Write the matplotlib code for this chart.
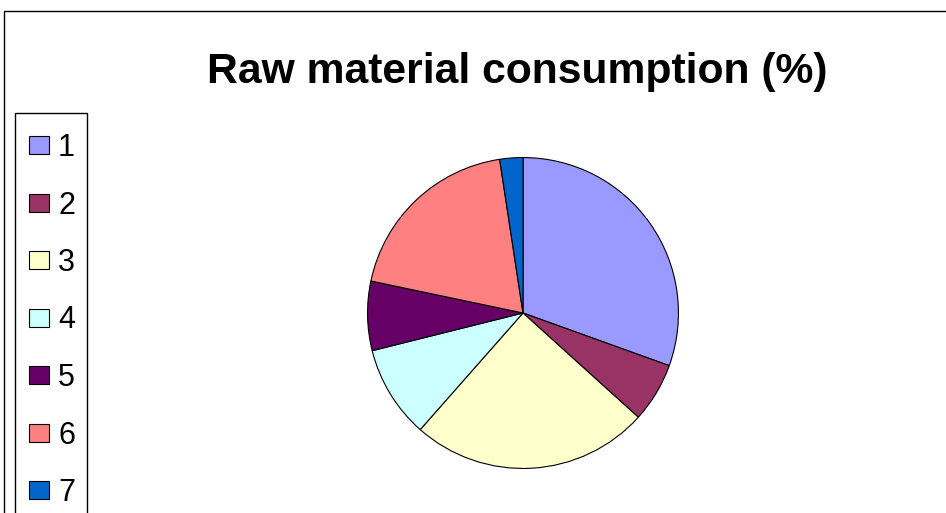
import matplotlib.pyplot as plt
from matplotlib.patches import Rectangle

labels = ['1', '2', '3', '4', '5', '6', '7']
values = [30.5, 6.2, 24.8, 9.6, 7.2, 19.3, 2.4]
colors = ['#9999FF', '#993366', '#FFFFCC', '#CCFFFF', '#660066', '#FF8080', '#0066CC']

W, H = 946, 513
plt.rcParams['font.family'] = ['Liberation Sans', 'DejaVu Sans']

fig = plt.figure(figsize=(W / 100, H / 100), dpi=100, facecolor='w')

# outer chart border (runs off the right and bottom edges)
fig.patches.append(Rectangle((4 / W, -0.1), 1.2, (H - 11) / H + 0.1, transform=fig.transFigure,
                             fill=False, edgecolor='black', lw=1.0))

fig.text(517 / W, 1 - 72 / H, 'Raw material consumption (%)', ha='center', va='center',
         fontsize=30.7, fontweight='bold')

# pie axes, centred at (523, 313) px with radius 157 px
cx, cy, r = 523, 313, 157
ax = fig.add_axes([(cx - r) / W, (H - cy - r) / H, 2 * r / W, 2 * r / H])
wedges, _ = ax.pie(values, colors=colors, startangle=90, counterclock=False,
                   wedgeprops=dict(edgecolor='black', linewidth=0.8))
ax.set_xlim(-1.01, 1.01)
ax.set_ylim(-1.01, 1.01)

# legend frame (also runs off the bottom)
fig.patches.append(Rectangle((15 / W, -0.1), 72 / W, (H - 113) / H + 0.1, transform=fig.transFigure,
                             fill=False, edgecolor='black', lw=1.0))
lg = fig.legend(wedges, labels, loc='upper left', bbox_to_anchor=(29 / W, 1 - 133 / H),
                frameon=False, fontsize=22, labelspacing=0.9, handlelength=0.65,
                handleheight=0.52, handletextpad=0.3, borderpad=0, borderaxespad=0)
for h in lg.legend_handles:
    h.set_linewidth(0.8)

fig.savefig('out.png', dpi=100)
